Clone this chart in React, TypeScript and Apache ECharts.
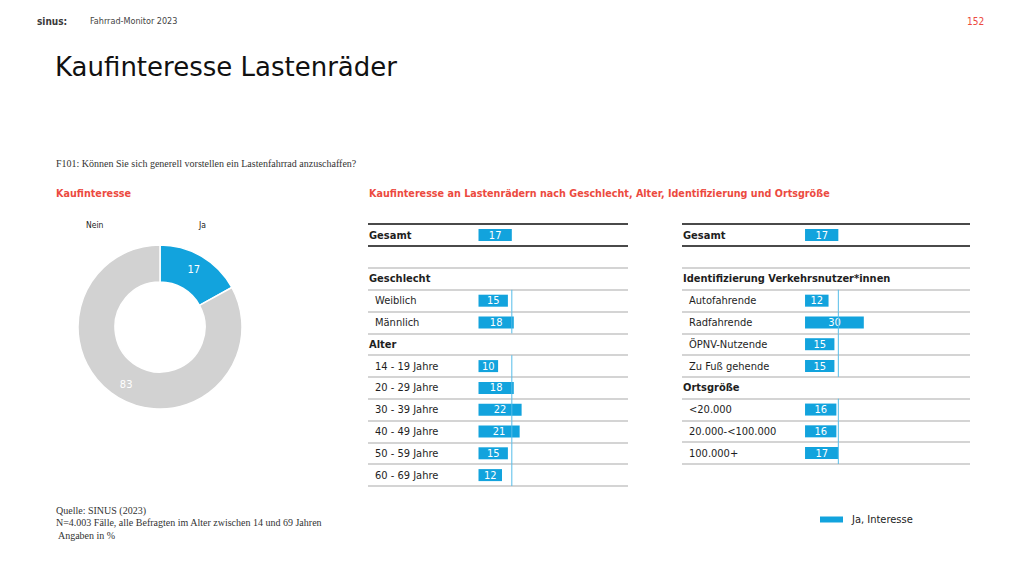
import React, { useEffect, useRef } from "react";
import * as echarts from "echarts";

const total = 17;
const pieNames = ["Ja", "Nein"];
const pieValues = [17, 83];

const genderCats = ["Weiblich", "Männlich"];
const genderVals = [15, 18];
const ageCats = ["14 - 19 Jahre", "20 - 29 Jahre", "30 - 39 Jahre", "40 - 49 Jahre", "50 - 59 Jahre", "60 - 69 Jahre"];
const ageVals = [10, 18, 22, 21, 15, 12];
const userCats = ["Autofahrende", "Radfahrende", "ÖPNV-Nutzende", "Zu Fuß gehende"];
const userVals = [12, 30, 15, 15];
const townCats = ["<20.000", "20.000-<100.000", "100.000+"];
const townVals = [16, 16, 17];

const headings = ["Gesamt", "Geschlecht", "Alter", "Identifizierung Verkehrsnutzer*innen", "Ortsgröße"];

const BLUE = "#12a3dd";
const RED = "#ec4a40";
const SANS = "'DejaVu Sans Condensed', 'DejaVu Sans', sans-serif";
const WIDE = "'DejaVu Sans', sans-serif";
const SERIF = "'Liberation Serif', serif";

const leftCats = ["Geschlecht", ...genderCats, "Alter", ...ageCats];
const leftVals = [null, ...genderVals, null, ...ageVals];
const rightCats = ["Identifizierung Verkehrsnutzer*innen", ...userCats, "Ortsgröße", ...townCats];
const rightVals = [null, ...userVals, null, ...townVals];

function refData(cats: string[]) {
  const out: number[][] = [];
  cats.forEach((c, i) => {
    if (!headings.includes(c)) out.push([total, i]);
  });
  return out;
}

function yAx(gridIndex: number, cats: string[], thick: boolean) {
  return {
    type: "category",
    gridIndex,
    data: cats,
    inverse: true,
    axisLine: { show: false, onZero: false },
    axisTick: { show: false },
    axisLabel: {
      inside: true,
      margin: 1,
      formatter: (v: string) => (headings.includes(v) ? `{h|${v}}` : `{i|${v}}`),
      rich: {
        h: { fontFamily: SANS, fontSize: 11, fontWeight: "bold", color: "#1e1e1e" },
        i: { fontFamily: SANS, fontSize: 11, color: "#1e1e1e", padding: [0, 0, 0, 6] },
      },
    },
    splitLine: { show: true, lineStyle: { color: thick ? "#4a4a4a" : "#c6c6c6", width: thick ? 2 : 1.5 } },
  };
}

function barSeries(idx: number, data: (number | null)[]) {
  return {
    type: "bar",
    name: "Ja, Interesse",
    xAxisIndex: idx,
    yAxisIndex: idx,
    data,
    barWidth: 12,
    itemStyle: { color: BLUE },
    label: { show: true, position: "inside", color: "#fff", fontFamily: SANS, fontSize: 11, formatter: "{c}" },
    silent: true,
  };
}

function refSeries(idx: number, data: number[][]) {
  return {
    type: "custom",
    name: "ref" + idx,
    xAxisIndex: idx,
    yAxisIndex: idx,
    data,
    encode: { x: 0, y: 1 },
    z: 5,
    silent: true,
    renderItem: (params: any, api: any) => {
      const p = api.coord([api.value(0), api.value(1)]);
      const h = api.size([0, 1])[1];
      return {
        type: "line",
        shape: { x1: p[0], y1: p[1] - h / 2, x2: p[0], y2: p[1] + h / 2 },
        style: { stroke: "#55bde9", lineWidth: 1 },
      };
    },
  };
}

export default function App() {
  const ref = useRef<HTMLDivElement>(null);
  useEffect(() => {
    if (!ref.current) return;
    const chart = echarts.init(ref.current, undefined, { renderer: "svg" });
    const txt = (text: string, x: number, y: number, size: number, color: string, extra: any = {}) => ({
      type: "text",
      style: { text, x, y, fontSize: size, fill: color, fontFamily: SANS, verticalAlign: "middle", ...extra },
    });
    chart.setOption({
      animation: false,
      backgroundColor: "#fff",
      graphic: [
        txt("sinus:", 37, 21, 10, "#3a3a3a", { fontWeight: "bold" }),
        txt("Fahrrad-Monitor 2023", 90, 21, 9, "#444"),
        txt("152", 967, 21, 10, RED),
        txt("Kaufinteresse Lastenräder", 55, 67, 26, "#111", { fontFamily: WIDE }),
        txt("F101: Können Sie sich generell vorstellen ein Lastenfahrrad anzuschaffen?", 56, 163, 10, "#333", { fontFamily: SERIF }),
        txt("Kaufinteresse", 56, 193, 10.7, RED, { fontWeight: "bold" }),
        txt("Kaufinteresse an Lastenrädern nach Geschlecht, Alter, Identifizierung und Ortsgröße", 369, 193, 10.7, RED, { fontWeight: "bold" }),
        txt("Nein", 86, 225, 8.5, "#222"),
        txt("Ja", 199, 225, 8.5, "#222"),
        txt("Quelle: SINUS (2023)", 56, 510, 10, "#333", { fontFamily: SERIF }),
        txt("N=4.003 Fälle, alle Befragten im Alter zwischen 14 und 69 Jahren", 56, 522, 10, "#333", { fontFamily: SERIF }),
        txt(" Angaben in %", 56, 535, 10, "#333", { fontFamily: SERIF }),
      ],
      legend: {
        data: ["Ja, Interesse"],
        left: 815,
        top: 509,
        itemWidth: 23,
        itemHeight: 6,
        icon: "rect",
        textStyle: { fontFamily: SANS, fontSize: 11, color: "#222", padding: [0, 0, 0, 4] },
      },
      grid: [
        { left: 368, top: 224, width: 260, height: 22 },
        { left: 368, top: 268, width: 260, height: 218 },
        { left: 682, top: 224, width: 288, height: 22 },
        { left: 682, top: 268, width: 288, height: 196 },
      ],
      xAxis: [
        { type: "value", gridIndex: 0, min: -56.4, max: 76.3, show: false },
        { type: "value", gridIndex: 1, min: -56.4, max: 76.3, show: false },
        { type: "value", gridIndex: 2, min: -62.8, max: 84.2, show: false },
        { type: "value", gridIndex: 3, min: -62.8, max: 84.2, show: false },
      ],
      yAxis: [
        yAx(0, ["Gesamt"], true),
        yAx(1, leftCats, false),
        yAx(2, ["Gesamt"], true),
        yAx(3, rightCats, false),
      ],
      series: [
        barSeries(0, [total]),
        barSeries(1, leftVals),
        barSeries(2, [total]),
        barSeries(3, rightVals),
        refSeries(0, refData(["Gesamt"])),
        refSeries(1, refData(leftCats)),
        refSeries(2, refData(["Gesamt"])),
        refSeries(3, refData(rightCats)),
        {
          type: "pie",
          name: "Kaufinteresse",
          center: [160, 327],
          radius: [45, 82],
          startAngle: 90,
          clockwise: true,
          silent: true,
          data: pieNames.map((n, i) => ({
            name: n,
            value: pieValues[i],
            itemStyle: { color: i === 0 ? BLUE : "#d2d2d2" },
          })),
          itemStyle: { borderColor: "#fff", borderWidth: 1.5 },
          label: { show: true, position: "inside", color: "#fff", fontFamily: SANS, fontSize: 11, formatter: "{c}" },
          labelLine: { show: false },
        },
      ],
    });
    return () => chart.dispose();
  }, []);
  return <div ref={ref} style={{ position: "fixed", left: 0, top: 0, width: 1024, height: 576 }} />;
}
